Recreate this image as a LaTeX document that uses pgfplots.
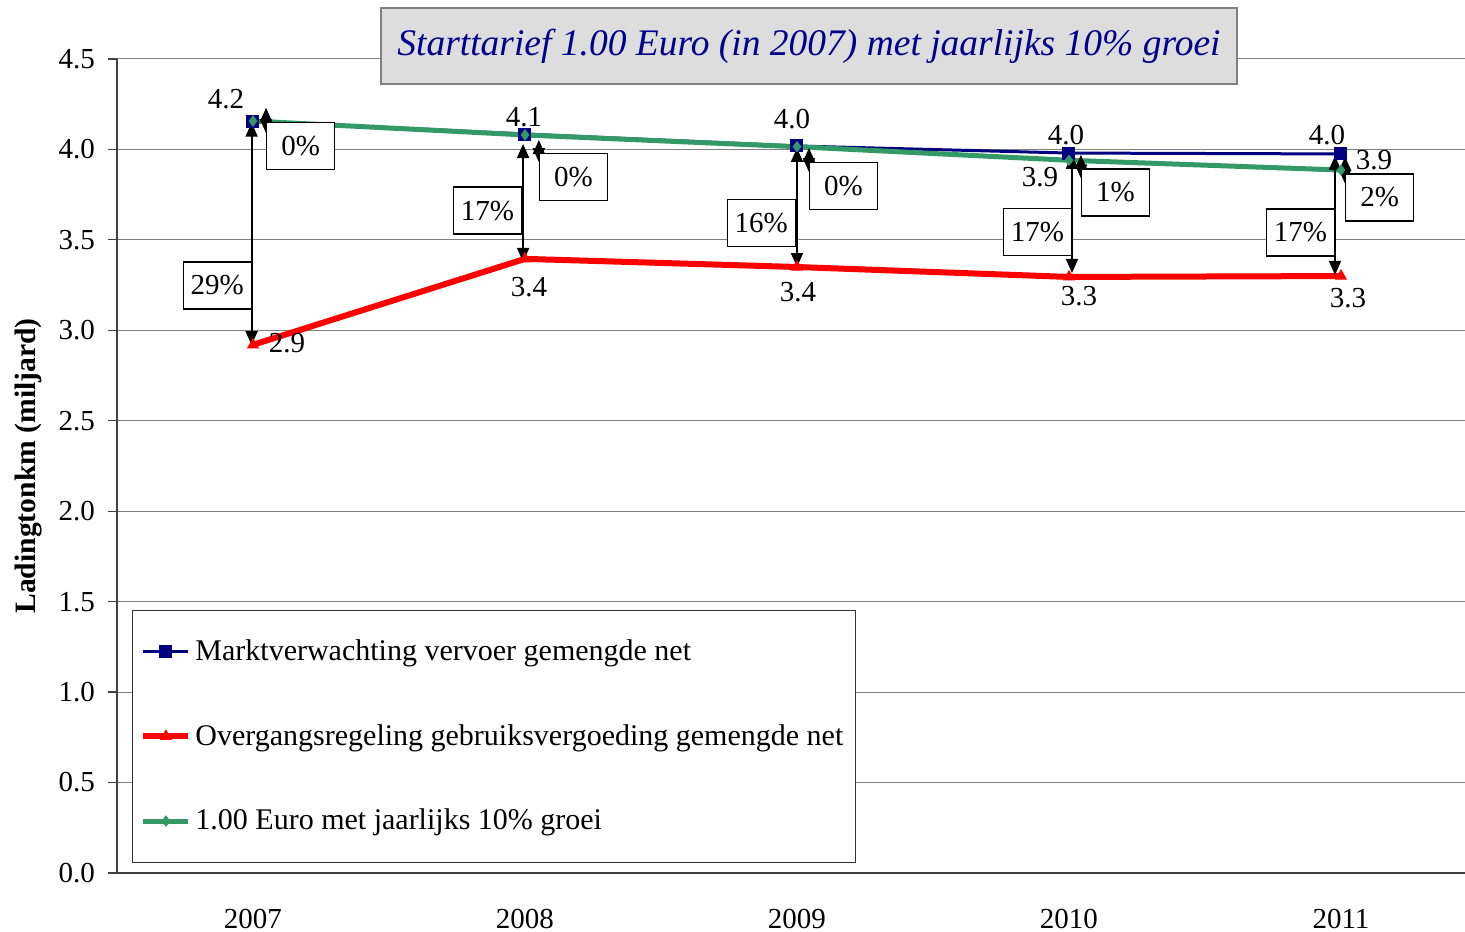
\documentclass[border=0pt]{standalone}
\usepackage{fontspec}
\setmainfont{Liberation Serif}
\usepackage{pgfplots}
\pgfplotsset{compat=1.18}
\usetikzlibrary{arrows.meta}
\definecolor{navyb}{RGB}{0,0,128}
\definecolor{redl}{RGB}{255,0,0}
\definecolor{greenl}{RGB}{51,153,102}
\definecolor{titlefill}{RGB}{221,221,221}
\definecolor{titleblue}{RGB}{0,0,140}
\newcommand{\lf}{\fontsize{14.5}{17}\selectfont}
\begin{document}
\begin{tikzpicture}[
  arr/.style={black, line width=0.9pt, {Triangle[width=6pt,length=7pt]}-{Triangle[width=6pt,length=7pt]}},
  pbox/.style={draw=black, line width=0.6pt, fill=white, minimum width=34pt, minimum height=23.5pt, inner sep=0pt, font=\lf},
  dl/.style={font=\lf, inner sep=0pt}
]
\begin{axis}[name=ax, scale only axis, width=674pt, height=407pt,
  xmin=-0.5, xmax=4.456, ymin=0, ymax=4.5,
  axis x line*=bottom, axis y line*=left,
  axis line style={-, black!75, line width=0.8pt},
  xtick={0,1,2,3,4}, xticklabels={2007,2008,2009,2010,2011},
  minor xtick={-0.5,0.5,1.5,2.5,3.5},
  xtick style={draw=none},
  minor x tick style={black!75, line width=0.6pt},
  minor tick length=5pt,
  ytick={0,0.5,1,1.5,2,2.5,3,3.5,4,4.5},
  ytick style={black!75, line width=0.6pt},
  major tick length=4.5pt,
  tick align=outside,
  yticklabel style={/pgf/number format/fixed, /pgf/number format/fixed zerofill, /pgf/number format/precision=1, xshift=-3pt},
  /pgf/number format/assume math mode=true,
  ticklabel style={font=\lf},
  xticklabel style={yshift=-10pt},
  ymajorgrids, grid style={gray, line width=0.5pt},
  ylabel={Ladingtonkm (miljard)},
  ylabel style={font=\bfseries\fontsize{14.8}{17}\selectfont, at={(axis description cs:-0.066,0.5)}, anchor=center},
  clip=false,
  legend style={at={(0.0111,0.0123)}, anchor=south west, draw=black!80, line width=0.5pt,
    inner xsep=4pt, inner ysep=12.75pt, row sep=26.5pt, font=\fontsize{15}{17.5}\selectfont},
  legend cell align=left,
  legend image code/.code={\draw[mark repeat=2,mark phase=2,#1] plot coordinates {(0pt,0pt)(11.25pt,0pt)(22.5pt,0pt)};},
]
\addplot[navyb, line width=1.5pt, mark=square*, mark size=2.5pt, mark options={solid}]
  coordinates {(0,4.157)(1,4.085)(2,4.019)(3,3.98)(4,3.975)};
\addlegendentry{Marktverwachting vervoer gemengde net}
\addplot[redl, line width=3pt, mark=triangle*, mark size=3pt, mark options={solid, line width=0.5pt}]
  coordinates {(0,2.92)(1,3.395)(2,3.35)(3,3.295)(4,3.30)};
\addlegendentry{Overgangsregeling gebruiksvergoeding gemengde net}
\addplot[greenl, line width=2.5pt, mark=diamond*, mark size=2.5pt, mark options={solid, line width=0.5pt}]
  coordinates {(0,4.157)(1,4.08)(2,4.015)(3,3.94)(4,3.886)};
\addlegendentry{1.00 Euro met jaarlijks 10\% groei}

% arrows
\draw[arr] (axis cs:-0.005,4.148) -- (axis cs:-0.005,2.918);
\draw[arr] (axis cs:0.993,4.03) -- (axis cs:0.993,3.378);
\draw[arr] (axis cs:2.0,4.008) -- (axis cs:2.0,3.35);
\draw[arr] (axis cs:3.011,3.97) -- (axis cs:3.011,3.317);
\draw[arr] (axis cs:3.978,3.964) -- (axis cs:3.978,3.306);
\draw[arr] (axis cs:0.048,4.23) -- (axis cs:0.048,4.09);
\draw[arr] (axis cs:1.051,4.052) -- (axis cs:1.051,3.93);
\draw[arr] (axis cs:2.044,4.008) -- (axis cs:2.044,3.875);
\draw[arr] (axis cs:3.044,3.97) -- (axis cs:3.044,3.84);
\draw[arr] (axis cs:4.015,3.96) -- (axis cs:4.015,3.81);

% percent boxes
\node[pbox, anchor=east] at (axis cs:-0.004,3.248) {29\%};
\node[pbox, anchor=east] at (axis cs:0.989,3.662) {17\%};
\node[pbox, anchor=east] at (axis cs:1.996,3.593) {16\%};
\node[pbox, anchor=east] at (axis cs:3.011,3.543) {17\%};
\node[pbox, anchor=east] at (axis cs:3.978,3.541) {17\%};
\node[pbox, anchor=west] at (axis cs:0.048,4.019) {0\%};
\node[pbox, anchor=west] at (axis cs:1.051,3.847) {0\%};
\node[pbox, anchor=west] at (axis cs:2.044,3.80) {0\%};
\node[pbox, anchor=west] at (axis cs:3.044,3.762) {1\%};
\node[pbox, anchor=west] at (axis cs:4.015,3.734) {2\%};

% data labels
\node[dl] at (axis cs:-0.099,4.279) {4.2};
\node[dl] at (axis cs:0.996,4.179) {4.1};
\node[dl] at (axis cs:1.982,4.169) {4.0};
\node[dl] at (axis cs:2.989,4.080) {4.0};
\node[dl] at (axis cs:3.949,4.080) {4.0};
\node[dl] at (axis cs:2.893,3.847) {3.9};
\node[dl] at (axis cs:4.121,3.941) {3.9};
\node[dl] at (axis cs:0.125,2.930) {2.9};
\node[dl] at (axis cs:1.015,3.239) {3.4};
\node[dl] at (axis cs:2.004,3.212) {3.4};
\node[dl] at (axis cs:3.037,3.190) {3.3};
\node[dl] at (axis cs:4.026,3.179) {3.3};

% title
\node[draw=gray, line width=1pt, fill=titlefill, minimum width=428pt, minimum height=38pt, inner sep=0pt,
  font=\fontsize{18.75}{22}\selectfont\itshape, text=titleblue] at (axis cs:2.044,4.572)
  {Starttarief 1.00 Euro (in 2007) met jaarlijks 10\% groei};
\end{axis}
\pgfresetboundingbox
\path ([shift={(-58.5pt,-29.5pt)}]ax.south west) rectangle ([shift={(0pt,29.5pt)}]ax.north east);
\end{tikzpicture}
\end{document}
